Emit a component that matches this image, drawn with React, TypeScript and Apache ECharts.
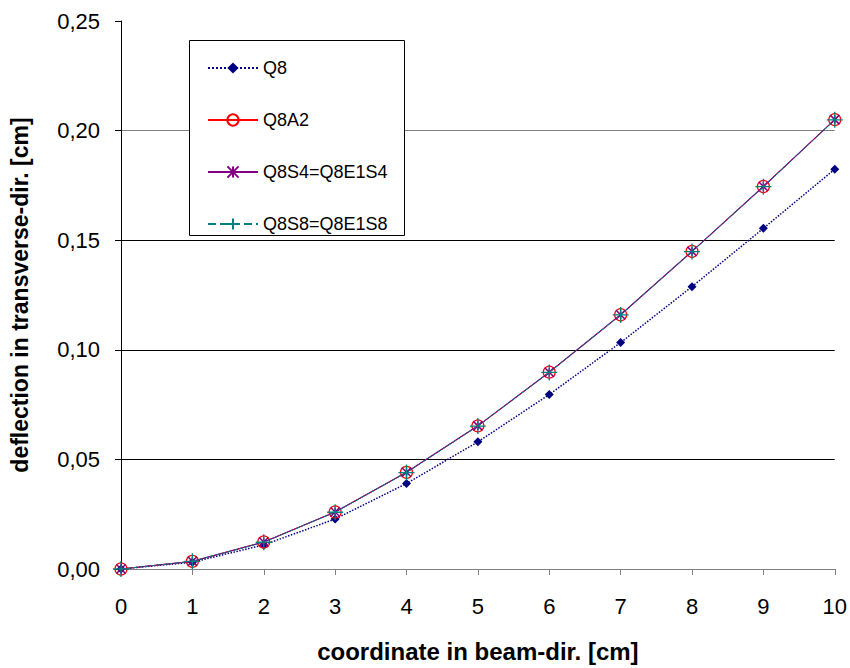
import React, { useEffect, useRef } from "react";
import * as echarts from "echarts";

const xValues = [0, 1, 2, 3, 4, 5, 6, 7, 8, 9, 10];
const q8 = [0, 0.0031, 0.011, 0.0228, 0.039, 0.058, 0.0796, 0.1033, 0.1288, 0.1554, 0.1824];
const q8a2 = [0, 0.0035, 0.0123, 0.026, 0.0441, 0.0653, 0.0898, 0.116, 0.1449, 0.1745, 0.205];
const q8s4 = [0, 0.0035, 0.0123, 0.026, 0.0441, 0.0653, 0.0898, 0.116, 0.1449, 0.1745, 0.205];
const q8s8 = [0, 0.0035, 0.0122, 0.0259, 0.044, 0.0652, 0.0897, 0.1159, 0.1448, 0.1744, 0.2049];
const seriesNames = ["Q8", "Q8A2", "Q8S4=Q8E1S4", "Q8S8=Q8E1S8"];

const FONT = "Liberation Sans, Arial, sans-serif";

const pair = (ys: number[]) => xValues.map((x, i) => [x, ys[i]]);

export default function App() {
  const ref = useRef<HTMLDivElement>(null);
  useEffect(() => {
    if (!ref.current) return;
    const chart = echarts.init(ref.current, null, { renderer: "svg" });
    chart.setOption({
      animation: false,
      backgroundColor: "#ffffff",
      grid: { left: 116, right: 15, top: 21, bottom: 94 },
      graphic: [
        {
          type: "rect",
          left: 189,
          top: 40,
          shape: { width: 215, height: 195 },
          style: { fill: "#ffffff", stroke: "#000000", lineWidth: 1 },
          z: 90,
        },
      ],
      legend: {
        orient: "vertical",
        left: 207,
        top: 59,
        padding: 0,
        itemWidth: 50,
        itemHeight: 14,
        itemGap: 34,
        z: 100,
        textStyle: { fontFamily: FONT, fontSize: 18, color: "#000" },
        data: seriesNames,
      },
      xAxis: {
        type: "value",
        min: 0,
        max: 10,
        interval: 1,
        name: "coordinate in beam-dir. [cm]",
        nameLocation: "middle",
        nameGap: 70,
        nameTextStyle: { fontFamily: FONT, fontSize: 24, fontWeight: "bold", color: "#000" },
        axisLine: { lineStyle: { color: "#808080", width: 1 } },
        axisTick: { show: true, inside: false, length: 6, lineStyle: { color: "#808080" } },
        axisLabel: { fontFamily: FONT, fontSize: 22, color: "#000", margin: 26 },
        splitLine: { show: false },
      },
      yAxis: {
        type: "value",
        min: 0,
        max: 0.25,
        interval: 0.05,
        name: "deflection in transverse-dir. [cm]",
        nameLocation: "middle",
        nameGap: 90,
        nameTextStyle: { fontFamily: FONT, fontSize: 23, fontWeight: "bold", color: "#000" },
        axisLine: { show: true, lineStyle: { color: "#000", width: 1 } },
        axisTick: { show: true, inside: false, length: 6, lineStyle: { color: "#000" } },
        axisLabel: {
          fontFamily: FONT,
          fontSize: 22,
          color: "#000",
          margin: 21,
          formatter: (v: number) => v.toFixed(2).replace(".", ","),
        },
        splitLine: {
          show: true,
          lineStyle: {
            color: ["#808080", "#000", "#000", "#000", "#808080", "rgba(0,0,0,0)"],
            width: 1,
          },
        },
      },
      series: [
        {
          name: seriesNames[0],
          type: "line",
          data: pair(q8),
          symbol: "diamond",
          symbolSize: 9,
          lineStyle: { color: "#000080", type: "dotted", width: 1.5 },
          itemStyle: { color: "#000080" },
          z: 2,
        },
        {
          name: seriesNames[1],
          type: "line",
          data: pair(q8a2),
          symbol: "circle",
          symbolSize: 12,
          lineStyle: { color: "#ff0000", width: 1 },
          itemStyle: { color: "rgba(255,255,255,0)", borderColor: "#ff0000", borderWidth: 1.2 },
          z: 3,
        },
        {
          name: seriesNames[2],
          type: "line",
          data: pair(q8s4),
          symbol: "path://M0,0 L10,10 M10,0 L0,10 M5,0 L5,10",
          symbolSize: 9,
          lineStyle: { color: "#800080", width: 1.2 },
          itemStyle: { color: "none", borderColor: "#800080", borderWidth: 1.5 },
          z: 4,
        },
        {
          name: seriesNames[3],
          type: "line",
          data: pair(q8s8),
          symbol: "path://M5,0 L5,10 M0,5 L10,5",
          symbolSize: 16,
          lineStyle: { color: "#008080", type: "dashed", width: 1 },
          itemStyle: { color: "none", borderColor: "#008080", borderWidth: 1.3 },
          z: 5,
        },
      ],
    });
    return () => chart.dispose();
  }, []);
  return <div ref={ref} style={{ width: 850, height: 668, position: "absolute", left: 0, top: 0 }} />;
}
